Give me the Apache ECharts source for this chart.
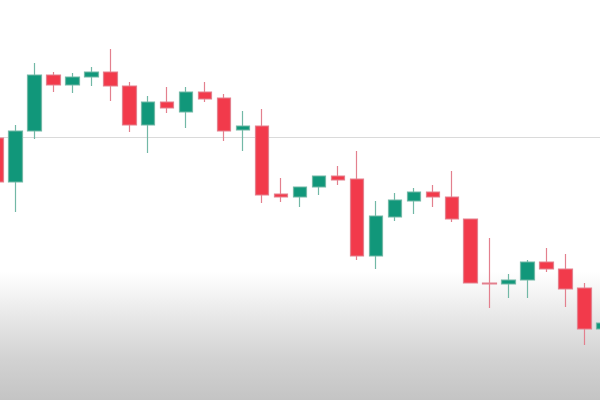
<!DOCTYPE html>
<html>
<head>
<meta charset="utf-8">
<script src="https://cdn.jsdelivr.net/npm/echarts@6/dist/echarts.min.js"></script>
<style>
html,body{margin:0;padding:0;}
#wrap{width:600px;height:400px;overflow:hidden;position:relative;background:linear-gradient(to bottom,#ffffff 0px,#ffffff 272px,#e6e6e6 320px,#d2d2d2 360px,#c4c4c4 400px);}
#chart{position:absolute;left:-13px;top:0;width:626px;height:400px;}
</style>
</head>
<body>
<div id="wrap"><div id="chart"></div></div>
<script>
// Candle index labels (no axis text shown in the reference)
const categories = ['1','2','3','4','5','6','7','8','9','10','11','12','13','14','15','16','17','18','19','20','21','22','23','24','25','26','27','28','29','30','31','32','33'];
const openVals  = [262,218,269,325,315,323,328,314,275,298,288,308,302,270,274,206,203,213,224,221,144,183,199,208,203,181,117,116,120,138,131,112,71];
const closeVals = [218,269,325,315,323,328,314,275,298,292,308,301,269,274,205,203,213,224,220,144,184,200,208,203,181,117,116,120,138,131,111,71,77];
const lowVals   = [216,188,261,308,307,314,299,268,247,287,272,298,259,249,197,198,193,205,215,140,131,179,186,193,178,117,92,102,102,128,93,55,71];
const highVals  = [263,275,337,328,327,333,351,318,304,313,313,318,306,289,291,222,213,224,234,249,199,207,212,215,229,181,162,126,140,152,146,117,77];
const referenceLevel = 263;

const data = categories.map((c, i) => [openVals[i], closeVals[i], lowVals[i], highVals[i]]);

const chart = echarts.init(document.getElementById('chart'), null, {renderer: 'canvas'});
chart.setOption({
  animation: false,
  backgroundColor: 'transparent',
  grid: {left: 0, right: 0, top: 0, bottom: 0},
  xAxis: {
    type: 'category', data: categories, boundaryGap: true,
    axisLine: {show: false}, axisTick: {show: false}, axisLabel: {show: false}, splitLine: {show: false}
  },
  yAxis: {
    type: 'value', min: 0, max: 400,
    axisLine: {show: false}, axisTick: {show: false}, axisLabel: {show: false}, splitLine: {show: false}
  },
  series: [{
    type: 'candlestick',
    z: 10,
    data: data,
    barWidth: 14,
    itemStyle: {
      color: '#11977a', color0: '#f23a4b',
      borderColor: '#72b8a6', borderColor0: '#e3808e', borderWidth: 1.2
    },
    markLine: {
      silent: true, symbol: 'none', label: {show: false},
      lineStyle: {color: '#dadada', type: 'solid', width: 1},
      data: [{yAxis: referenceLevel}]
    }
  }]
});
</script>
</body>
</html>
